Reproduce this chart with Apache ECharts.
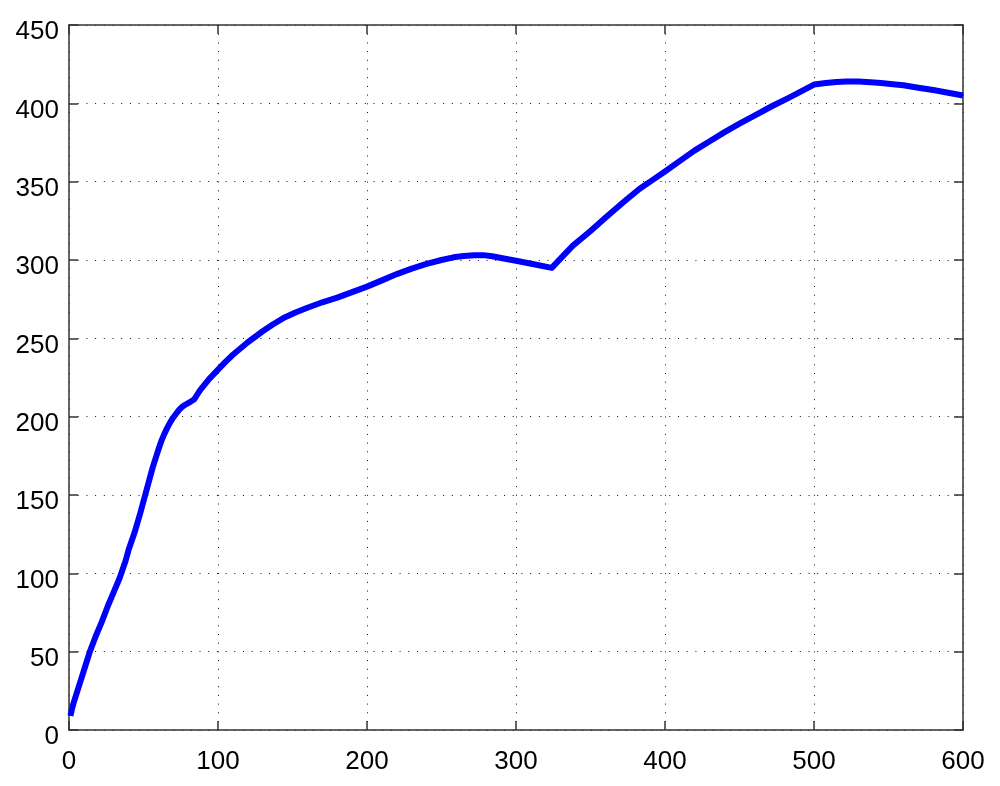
<!DOCTYPE html>
<html>
<head>
<meta charset="utf-8">
<script src="https://cdn.jsdelivr.net/npm/echarts@6/dist/echarts.min.js"></script>
<style>
html,body{margin:0;padding:0;background:#fff;}
#chart{width:1000px;height:786px;}
</style>
</head>
<body>
<div id="chart"></div>
<script>
// Data
var xValues = [1, 2, 3, 5, 8, 11, 14, 18, 22, 26, 30, 34, 38, 40, 44, 48, 52, 56, 58, 60, 62, 64, 66, 68, 70, 72, 74, 76, 78, 80, 82, 84, 86, 88, 91, 94, 97, 100, 105, 110, 115, 120, 125, 130, 137, 145, 152, 160, 170, 180, 190, 200, 210, 220, 230, 240, 250, 258, 265, 272, 278, 284, 290, 300, 312, 324, 330, 338, 350, 360, 372, 383, 392, 400, 410, 420, 430, 440, 450, 461, 472, 484, 492, 500, 508, 515, 522, 530, 538, 545, 553, 560, 570, 580, 590, 600];
var yValues = [9, 13.5, 17, 23, 32, 41, 50, 60, 69, 79, 88, 97, 108, 115, 126, 139, 153, 167, 173, 179, 184.5, 189, 193, 196.5, 199.5, 202, 204.5, 206.3, 207.6, 208.7, 209.8, 211, 214, 217, 220.5, 224, 227, 230, 235, 239.5, 243.5, 247.5, 251, 254.5, 259, 263.5, 266.5, 269.5, 273, 276, 279.5, 283, 287, 291, 294.5, 297.5, 300, 301.7, 302.6, 303, 303.1, 302.4, 301.3, 299.5, 297.3, 295, 301, 309, 318.5, 327, 336.8, 345.5, 351.3, 356.5, 363.3, 370, 375.8, 381.6, 387, 392.6, 398.3, 404, 408, 412, 413, 413.6, 413.9, 413.9, 413.5, 413, 412.2, 411.5, 410, 408.5, 406.8, 405];
var xTicks = [0, 100, 200, 300, 400, 500, 600];
var yTicks = [0, 50, 100, 150, 200, 250, 300, 350, 400, 450];

var seriesData = xValues.map(function (x, i) { return [x, yValues[i]]; });

var axisColor = '#333';
var labelFont = { fontFamily: 'Liberation Sans, Arial, sans-serif', fontSize: 26, color: '#000' };
var gridLine = { show: true, lineStyle: { color: '#111', width: 1, type: [1, 7.7] } };

var chart = echarts.init(document.getElementById('chart'), null, { renderer: 'canvas' });
chart.setOption({
  animation: false,
  backgroundColor: '#fff',
  grid: { left: 69, right: 37, top: 25, bottom: 56, containLabel: false },
  xAxis: [{
    type: 'value', position: 'bottom', min: xTicks[0], max: xTicks[xTicks.length - 1], interval: 100,
    axisLine: { show: true, onZero: false, lineStyle: { color: axisColor, width: 1.5 } },
    axisTick: { show: true, inside: true, length: 9, lineStyle: { color: axisColor, width: 1.5 } },
    axisLabel: Object.assign({ margin: 19 }, labelFont),
    splitLine: gridLine
  }, {
    type: 'value', position: 'top', min: xTicks[0], max: xTicks[xTicks.length - 1], interval: 100,
    axisLine: { show: true, onZero: false, lineStyle: { color: axisColor, width: 1.5 } },
    axisTick: { show: true, inside: true, length: 9, lineStyle: { color: axisColor, width: 1.5 } },
    axisLabel: { show: false },
    splitLine: { show: false }
  }],
  yAxis: [{
    type: 'value', position: 'left', min: yTicks[0], max: yTicks[yTicks.length - 1], interval: 50,
    axisLine: { show: true, onZero: false, lineStyle: { color: axisColor, width: 1.5 } },
    axisTick: { show: true, inside: true, length: 9, lineStyle: { color: axisColor, width: 1.5 } },
    axisLabel: Object.assign({
      margin: 10,
      formatter: '{a|{value}}',
      rich: { a: { fontFamily: 'Liberation Sans, Arial, sans-serif', fontSize: 26, color: '#000', padding: [14, 0, 0, 0] } }
    }, labelFont),
    splitLine: gridLine
  }, {
    type: 'value', position: 'right', min: yTicks[0], max: yTicks[yTicks.length - 1], interval: 50,
    axisLine: { show: true, onZero: false, lineStyle: { color: axisColor, width: 1.5 } },
    axisTick: { show: true, inside: true, length: 9, lineStyle: { color: axisColor, width: 1.5 } },
    axisLabel: { show: false },
    splitLine: { show: false }
  }],
  series: [{
    type: 'line',
    xAxisIndex: 0, yAxisIndex: 0,
    data: seriesData,
    showSymbol: false,
    smooth: false,
    lineStyle: { color: '#0000ff', width: 6, join: 'round', cap: 'butt' },
    itemStyle: { color: '#0000ff' }
  }]
});
</script>
</body>
</html>
